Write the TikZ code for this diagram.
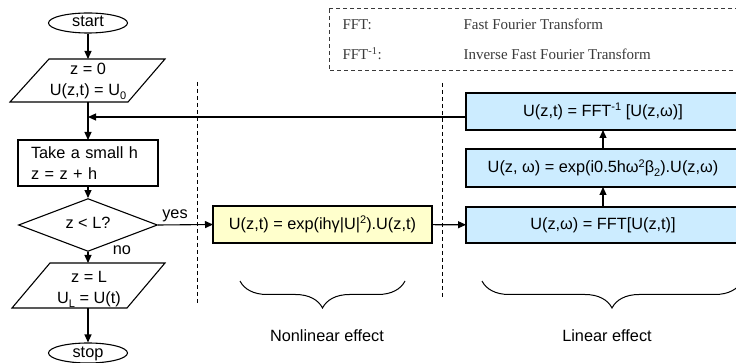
\documentclass[tikz,border=0pt]{standalone}
\usepackage{fontspec}
\setmainfont{Liberation Sans}
\newfontfamily\legendfont{Liberation Serif}
\usetikzlibrary{arrows.meta,decorations.pathreplacing,shapes.geometric}
\definecolor{yel}{HTML}{FFFFCC}
\definecolor{blu}{HTML}{CCECFF}
\definecolor{leg}{HTML}{3A3A3A}
\newcommand\lowsub[1]{\raisebox{-4pt}{\fontsize{11}{11}\selectfont #1}}
\newcommand\upsup[1]{\raisebox{5.5pt}{\fontsize{11}{11}\selectfont #1}}
\begin{document}
\begin{tikzpicture}[x=1pt,y=-1pt, line width=1.1pt,
  >={Triangle[length=8pt,width=7pt]},
  every node/.style={font=\fontsize{16.3}{21}\selectfont},
  term/.style={ellipse,draw,minimum width=79pt,minimum height=20pt,inner sep=0pt,text height=8pt,text depth=0pt},
  procbox/.style={draw,inner sep=0pt,outer sep=0pt},
  bluebox/.style={procbox,fill=blu,minimum width=274pt},
  sep/.style={dashed,dash pattern=on 4pt off 3pt,line width=1pt},
  brc/.style={decorate,decoration={brace,amplitude=27pt},line width=1pt},
  legtext/.style={font=\legendfont\fontsize{15}{18}\selectfont,text=leg,anchor=base west,inner sep=0pt}
]
\useasboundingbox (0,0) rectangle (736,363);

% legend
\draw[sep,leg] (329,9) rectangle (745,71);
\node[legtext] (l1) at (342,30) {FFT:};
\node[legtext] (l2) at (342,60) {FFT\textsuperscript{-1}:};
\node[legtext] (l3) at (463,30) {Fast Fourier Transform};
\node[legtext] (l4) at (463,60) {Inverse Fast Fourier Transform};

% flowchart
\node[term] (start) at (88,23) {start};

\coordinate (p1nw) at (49,59); \coordinate (p1ne) at (165,59);
\coordinate (p1se) at (128,102); \coordinate (p1sw) at (10,102);
\draw (p1nw) -- (p1ne) -- (p1se) -- (p1sw) -- cycle;
\node[align=center,inner sep=0pt] (p1) at (88,81) {z = 0\\U(z,t) = U\lowsub{0}};
\coordinate (p1t) at (88,59); \coordinate (p1b) at (88,102);

\node[procbox,anchor=north west,minimum width=140pt,minimum height=46pt,
  inner xsep=13pt,text width=114pt,align=left] (take) at (18,140)
  {Take a small h\\z = z + h};

\node[diamond,draw,minimum width=139pt,minimum height=35pt,inner sep=0pt,
  text height=8pt,text depth=0pt] (dia) at (88,225) {z < L?};

\coordinate (p2nw) at (50,263); \coordinate (p2ne) at (165,263);
\coordinate (p2se) at (127,308); \coordinate (p2sw) at (12,308);
\draw (p2nw) -- (p2ne) -- (p2se) -- (p2sw) -- cycle;
\node[align=center,inner sep=0pt] (p2) at (89,289) {z = L\\U\lowsub{L} = U(t)};
\coordinate (p2t) at (88,263); \coordinate (p2b) at (88,308);

\node[term] (stop) at (88,353) {stop};

\node[anchor=base,inner sep=0pt] (yes) at (175,219) {yes};
\node[anchor=base,inner sep=0pt] (no) at (122,255) {no};

% separators
\draw[sep] (197,82) -- (197,305);
\draw[sep] (442,83) -- (442,297);

% nonlinear
\node[procbox,fill=yel,minimum width=219pt,minimum height=37pt] (nl) at (322.5,224.5)
  {U(z,t) = exp(ihγ|U|\upsup{2}).U(z,t)};

% linear
\node[bluebox,minimum height=37pt] (b1) at (603,111.5) {U(z,t) = FFT\upsup{-1} [U(z,ω)]};
\node[bluebox,minimum height=38pt] (b2) at (603,168) {U(z, ω) = exp(i0.5hω\upsup{2}β\lowsub{2}).U(z,ω)};
\node[bluebox,minimum height=36pt] (b3) at (603,225) {U(z,ω) = FFT[U(z,t)]};

% connectors
\draw[->] (start) -- (p1t);
\draw[->] (p1b) -- (take);
\draw[->] (take) -- (dia);
\draw[->] (dia) -- (p2t);
\draw[->] (p2b) -- (stop);
\draw[->] (dia.east) -- (nl.west);
\draw[->] (nl) -- (b3);
\draw[->] (b3) -- (b2);
\draw[->] (b2) -- (b1);
\coordinate (j) at (88,117);
\draw[->] (b1.west |- j) -- (j);

% braces
\coordinate (nbr) at (405,281); \coordinate (nbl) at (240,281);
\draw[brc] (nbr) -- (nbl);
\node (nle) at (327,336) {Nonlinear effect};
\coordinate (lbr) at (742,281); \coordinate (lbl) at (482,281);
\draw[brc] (lbr) -- (lbl);
\node (lie) at (607,336) {Linear effect};
\end{tikzpicture}
\end{document}
